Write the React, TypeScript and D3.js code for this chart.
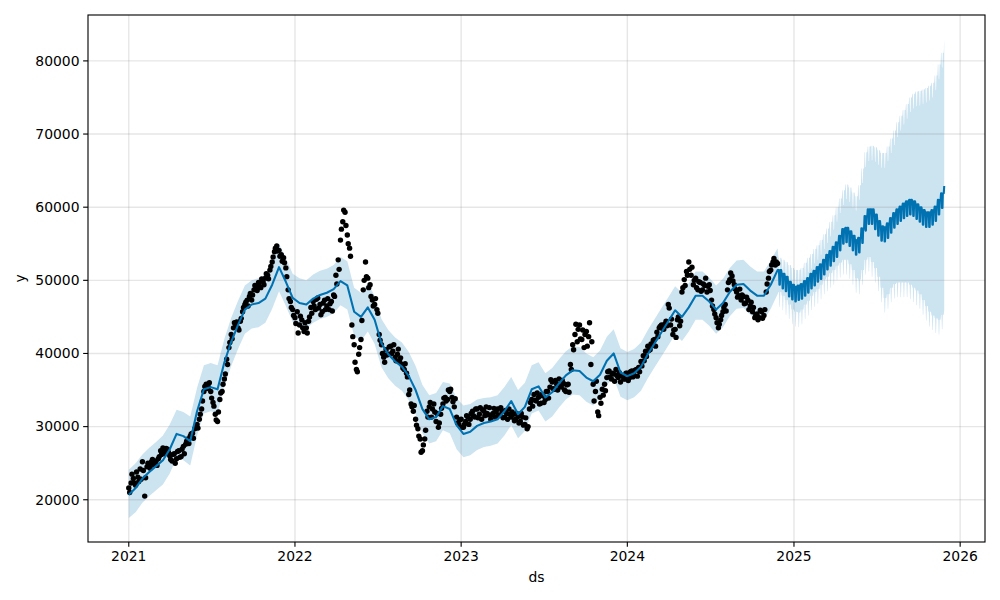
import React from 'react';
import * as d3 from 'd3';

// ---------- data ----------
const HIST_START = Date.UTC(2021, 0, 1);
const HIST_STEP_DAYS = 15;
const histYhat = [
  20700, 21600, 22900, 23800, 24600, 25400, 26900, 29000, 28700, 28000,
  32100, 35100, 35400, 35100, 38800, 41600, 43900, 46000, 46700, 46900,
  47500, 49400, 51800, 49800, 47600, 46900, 46700, 47500, 48000, 48300,
  48800, 49900, 49300, 45700, 45000, 46300, 44600, 41400, 39900, 38900,
  38200, 36900, 35000, 32400, 31000, 31300, 32800, 32400, 30200, 29000,
  29300, 30100, 30500, 30700, 31000, 32100, 33500, 31700, 32700, 35100,
  35500, 34000, 34700, 35900, 37000, 37700, 37600, 36700, 36200, 37100,
  39000, 40000, 37400, 36900, 37300, 38200, 39900, 41400, 42900, 44400,
  45900, 45000, 46300, 47900, 47900, 47100, 46000, 46900, 48400, 49400,
  49500, 48600, 47900, 47900, 49400, 51400,
];
const histUpper = [
  24100, 25000, 26200, 27100, 27900, 28800, 30300, 32300, 32000, 31400,
  35300, 38400, 38700, 38400, 42000, 44900, 47200, 49300, 50000, 50300,
  50800, 52700, 55000, 53100, 50900, 50300, 50000, 50800, 51300, 51600,
  52100, 53200, 52600, 49000, 48300, 49600, 47900, 44700, 43200, 42200,
  41500, 40200, 38300, 35700, 34300, 34600, 36100, 35900, 33900, 32900,
  33100, 33700, 33900, 34000, 34300, 35400, 36800, 35000, 36000, 38400,
  38800, 37300, 38000, 39200, 40300, 41000, 40900, 40000, 39500, 40400,
  42300, 43300, 40700, 40200, 40600, 41500, 43200, 44700, 46200, 47700,
  49200, 48300, 49600, 51200, 51200, 50400, 49300, 50200, 51700, 52700,
  52800, 51900, 51200, 51200, 52700, 54400,
];
const histLower = [
  17500, 18300, 19600, 20500, 21300, 22100, 23600, 25700, 25400, 24700,
  28800, 31800, 32100, 31800, 35500, 38300, 40600, 42700, 43400, 43600,
  44200, 46100, 48500, 46500, 44300, 43600, 43400, 44200, 44700, 45000,
  45500, 46600, 46000, 42400, 41700, 43000, 41300, 38100, 36600, 35600,
  34900, 33600, 31700, 29100, 27700, 28000, 29500, 29100, 26900, 25800,
  26100, 26800, 27200, 27400, 27700, 28800, 30200, 28400, 29400, 31800,
  32200, 30700, 31400, 32600, 33700, 34400, 34300, 33400, 32900, 33800,
  35700, 36700, 34100, 33600, 34000, 34900, 36600, 38100, 39600, 41100,
  42600, 41700, 43000, 44600, 44600, 43800, 42700, 43600, 45100, 46100,
  46200, 45300, 44600, 44600, 46100, 48100,
];

// observations: two interleaved readings, every 5 days (second set offset by 2 days)
const OBS_START = Date.UTC(2021, 0, 1);
const OBS_B_OFFSET_DAYS = 2;
const OBS_STEP_DAYS = 5;
const obsValues = [
  21600, 22300, 22900, 22000, 23100, 24200, 25200, 20500, 24500, 24800,
  25200, 24800, 25300, 25600, 26700, 27100, 26300, 26900, 26000, 25300,
  26300, 25600, 26700, 25900, 27300, 27600, 28300, 28700, 29100, 29700,
  30300, 31000, 32400, 34800, 35800, 35400, 34800, 33300, 31700, 30700,
  33700, 34800, 36500, 39200, 40800, 42600, 43500, 43900, 43500, 44400,
  45700, 46700, 47300, 47800, 47300, 48700, 49100, 49700, 49000, 49800,
  50300, 50700, 51400, 52500, 53900, 54700, 54100, 53500, 53100, 51700,
  48700, 47100, 46000, 44900, 45700, 43900, 44600, 43000, 43500, 44400,
  46300, 47100, 46000, 47600, 46700, 45700, 47300, 46500, 46000, 47100,
  48000, 50700, 52800, 55500, 58000, 59300, 56200, 54400, 43900, 41200,
  37800, 39900, 41900, 48700, 52500, 50300, 49400, 47300, 46700, 46000,
  42600, 41200, 39500, 40500, 39900, 41000, 40300, 39500, 39900, 38900,
  38500, 37800, 37300, 34400, 33100, 32100, 31000, 29700, 28300, 26700,
  28300, 32100, 32700, 31300, 33100, 30700, 29900, 31700, 33100, 34000,
  33700, 34800, 34000, 32700, 31300, 30300, 31000, 29900, 30700, 31300,
  31000, 32100, 31300, 32400, 31700, 31000, 32100, 32700, 31600, 31000,
  31800, 31300, 32400, 31600, 32100, 31300, 31800, 32400, 31300, 31700,
  31000, 31400, 30700, 31300, 30300, 29700, 32400, 33700, 34400, 33500,
  34000, 33200, 34200, 33700, 34800, 35400, 36100, 35100, 35800, 36500,
  35400, 35900, 34800, 35800, 38500, 41200, 42600, 41600, 43900, 41900,
  40800, 43000, 42300, 38500, 35800, 34800, 32000, 34000, 35100, 35800,
  36700, 37600, 36500, 37200, 37800, 36700, 36100, 37000, 36500, 37300,
  36700, 37600, 37000, 37800, 38100, 38900, 39700, 40300, 41000, 40500,
  41200, 41900, 42900, 43500, 43900, 43300, 44400, 46700, 43900, 42600,
  43300, 44600, 43800, 48400, 50100, 51200, 52500, 50700, 49400, 50300,
  48700, 49700, 48700, 49300, 48400, 49400, 47300, 46000, 44900, 43500,
  44600, 45700, 46700, 48700, 50100, 50600, 49400, 48400, 47900, 47300,
  47800, 46900, 47300, 46500, 45700, 44900, 45400, 44900, 45700, 45200,
  48400, 50300, 51400, 52500, 52100, 52300,
];
const obsValuesB = [
  21000, 23500, 22300, 23800, 22500, 22800, 24000, 23000,
  25000, 24300, 25500, 25100, 24700, 25900,
  26200, 26800, 27000, 26500,
  25500, 26200, 25000, 26600, 25800, 26900, 26300,
  28000, 27700, 29000, 28400,
  30000, 29800, 31700, 33500,
  35500, 35200, 36000, 33900, 32800, 30900, 32000, 34600,
  35800, 37200,
  38500, 41500, 42000, 44200,
  44300, 43200, 44800,
  46300, 47000, 46500, 48200, 48000,
  49300, 48600, 49200, 50200, 49400, 50900, 50200, 51900,
  53200, 54400, 54000, 53300, 52600, 52400,
  50500, 47500, 46300,
  45200, 44100, 42800, 45100, 43500, 44200, 42800, 45000,
  45500, 46500, 47400, 46200, 45300, 46900, 46000, 47500, 46800, 45800, 47800,
  49500, 51500,
  57000, 59600, 57500, 55000, 53300,
  42300, 38800, 37500, 40800, 44500,
  50000, 50500, 49000, 47800, 46500, 47500, 45500,
  41800, 40000, 38800,
  39800, 40900, 40000, 41200, 39000, 40600,
  39400, 38000, 38600, 36800,
  35000, 32700, 32900,
  30200, 28700, 26500, 27500, 29500,
  31300, 33300, 32400, 32000,
  31800, 30500, 32500,
  33900, 33500, 35000, 35100, 33400, 33800,
  30500, 30900, 29900, 30300, 31500, 30300,
  31800, 31500, 32400, 31200, 32600, 32300, 31500, 31800, 32600,
  31600, 32500, 32000, 31500, 32600, 31200, 32200, 31000, 31700, 32000, 30800, 31800,
  30500, 31800, 30200, 31200, 30000,
  33300, 32800, 33600, 34600, 33100, 34400, 33300, 34800, 33900,
  36400, 35200, 36300, 35000, 35600, 36300, 35000, 35700, 34700,
  37800, 40500, 44000, 43300, 42000, 43200, 42600, 41000, 44200, 41600,
  33500, 36200, 31500, 33200, 34300,
  34900, 37500, 36800, 37300, 36200, 37000, 37400, 37000, 36500,
  37300, 36300, 37500, 36800, 37700, 36900, 37500,
  38300, 39000, 39600, 40400, 41300, 41800, 41000,
  42300, 43700, 43400, 44000, 43800,
  46200, 44700, 43200, 42200, 45000, 44400,
  49000, 49300, 50700, 51500, 51800, 50000, 49000, 49800,
  48500, 49500, 50300, 49200, 48600,
  46500, 45400, 44200, 44000, 45200, 46300, 45800,
  49700, 51000, 49900, 48800,
  47700, 48800, 48000, 46800, 47700, 46000, 47000,
  46300, 45200, 44600, 45900, 44800, 46000,
  49500, 51200, 52100, 53000, 52500,
];

const FC_START = Date.UTC(2024, 10, 28);
const FC_DAYS = 365;
// weekday level of the forecast, one value per week
const fcYhat = [
  51400, 50900, 50500, 49800, 49400, 49100, 49300, 49500, 49900, 50300,
  50900, 51300, 51800, 52200, 52800, 53500, 54000, 54600, 55200, 56100,
  57000, 57200, 56700, 56100, 55500, 55800, 57100, 58800, 59700, 59700,
  59000, 58100, 57400, 57300, 57800, 58500, 59200, 59700, 60100, 60500,
  60800, 61000, 60800, 60400, 60000, 59600, 59300, 59300, 59600, 60100,
  61000, 61900, 62900,
];
const fcUpper = [
  53100, 52800, 52500, 52100, 51700, 51400, 51400, 51700, 52400, 53100,
  53600, 54300, 54800, 55500, 56300, 57100, 58000, 58900, 60000, 61200,
  62300, 63100, 62700, 62000, 61500, 63000, 65300, 67500, 68300, 68400,
  68200, 67800, 67400, 67400, 68300, 69400, 70500, 71600, 72500, 73300,
  74100, 75000, 75500, 75800, 75900, 76100, 76300, 76600, 77000, 78000,
  79500, 81100, 83000,
];
const fcLower = [
  48400, 47900, 47300, 46700, 46000, 45700, 45600, 46000, 46700, 47200,
  47900, 48400, 48800, 49400, 50100, 50500, 51000, 51400, 52000, 52400,
  52800, 52800, 52200, 51400, 50300, 50100, 51400, 52800, 53200, 52500,
  51700, 50500, 49000, 47600, 48100, 49000, 49500, 49700, 49700, 49700,
  49700, 49400, 49000, 48600, 48100, 47300, 46500, 45700, 45200, 44800,
  44600, 45300, 46000,
];
// weekly seasonal effect by day of week (Sun..Sat)
const weeklyEffect = [-2000, 0, 0, 0, 0, 0, -2000];

const xTickYears = [2021, 2022, 2023, 2024, 2025, 2026];
const yTickValues = [20000, 30000, 40000, 50000, 60000, 70000, 80000];

// ---------- chart ----------
const DAY = 86400000;
const W = 1000, H = 600;
const M = { left: 88, right: 985, top: 15, bottom: 542 };

type Pt = { t: Date; yhat: number; upper: number; lower: number };
type Obs = { t: Date; v: number };

export default function App() {
  const hist: Pt[] = histYhat.map((v, i) => ({
    t: new Date(HIST_START + i * HIST_STEP_DAYS * DAY),
    yhat: v,
    upper: histUpper[i],
    lower: histLower[i],
  }));
  const fc: Pt[] = d3.range(FC_DAYS).map((i) => {
    const t = new Date(FC_START + i * DAY);
    const k = Math.floor(i / 7);
    const w = weeklyEffect[t.getUTCDay()];
    return { t, yhat: fcYhat[k] + w, upper: fcUpper[k] + w, lower: fcLower[k] + w };
  });
  const all = hist.concat(fc);
  const obs: Obs[] = obsValues
    .map((v, i) => ({ t: new Date(OBS_START + i * OBS_STEP_DAYS * DAY), v }))
    .concat(obsValuesB.map((v, i) => ({ t: new Date(OBS_START + (i * OBS_STEP_DAYS + OBS_B_OFFSET_DAYS) * DAY), v })));

  const times = all.map((d) => d.t.getTime()).concat(obs.map((o) => o.t.getTime()));
  const tMin = d3.min(times)!, tMax = d3.max(times)!;
  const tPad = (tMax - tMin) * 0.05;
  const yMin = Math.min(d3.min(all, (d) => d.lower)!, d3.min(obs, (d) => d.v)!);
  const yMax = Math.max(d3.max(all, (d) => d.upper)!, d3.max(obs, (d) => d.v)!);
  const yPad = (yMax - yMin) * 0.05;

  const x = d3.scaleUtc().domain([new Date(tMin - tPad), new Date(tMax + tPad)]).range([M.left, M.right]);
  const y = d3.scaleLinear().domain([yMin - yPad, yMax + yPad]).range([M.bottom, M.top]);

  const area = d3.area<Pt>().x((d) => x(d.t)).y0((d) => y(d.lower)).y1((d) => y(d.upper));
  const line = d3.line<Pt>().x((d) => x(d.t)).y((d) => y(d.yhat));

  const xTicks = xTickYears.map((yr) => new Date(Date.UTC(yr, 0, 1)));
  const font = "'DejaVu Sans', sans-serif";
  const blue = '#0072B2';

  return (
    <svg width={W} height={H} style={{ position: 'fixed', left: 0, top: 0, background: '#fff' }} fontFamily={font}>
      <defs>
        <clipPath id="plotclip">
          <rect x={M.left} y={M.top} width={M.right - M.left} height={M.bottom - M.top} />
        </clipPath>
      </defs>
      <rect x={0} y={0} width={W} height={H} fill="#fff" />
      <g clipPath="url(#plotclip)">
        <path d={area(all) || ''} fill={blue} fillOpacity={0.2} stroke="none" />
        {xTicks.map((t, i) => (
          <line key={'gx' + i} x1={x(t)} x2={x(t)} y1={M.top} y2={M.bottom} stroke="#808080" strokeOpacity={0.2} strokeWidth={1.39} />
        ))}
        {yTickValues.map((v, i) => (
          <line key={'gy' + i} x1={M.left} x2={M.right} y1={y(v)} y2={y(v)} stroke="#808080" strokeOpacity={0.2} strokeWidth={1.39} />
        ))}
        {obs.map((o, i) => (
          <circle key={'o' + i} cx={x(o.t)} cy={y(o.v)} r={2.7} fill="#000" />
        ))}
        <path d={line(all) || ''} fill="none" stroke={blue} strokeWidth={2.08} strokeLinejoin="round" />
      </g>
      <rect x={M.left} y={M.top} width={M.right - M.left} height={M.bottom - M.top} fill="none" stroke="#000" strokeWidth={1.11} />
      {xTicks.map((t, i) => (
        <g key={'xt' + i} transform={`translate(${x(t)},${M.bottom})`}>
          <line y1={0} y2={4.86} stroke="#000" strokeWidth={1.11} />
          <text y={18.5} textAnchor="middle" fontSize={13.9} fill="#000">{xTickYears[i]}</text>
        </g>
      ))}
      {yTickValues.map((v, i) => (
        <g key={'yt' + i} transform={`translate(${M.left},${y(v)})`}>
          <line x1={0} x2={-4.86} stroke="#000" strokeWidth={1.11} />
          <text x={-8.5} dy="0.35em" textAnchor="end" fontSize={13.9} fill="#000">{v}</text>
        </g>
      ))}
      <text x={(M.left + M.right) / 2} y={582} textAnchor="middle" fontSize={13.9} fill="#000">ds</text>
      <text transform={`translate(25,${(M.top + M.bottom) / 2}) rotate(-90)`} textAnchor="middle" fontSize={13.9} fill="#000">y</text>
    </svg>
  );
}
